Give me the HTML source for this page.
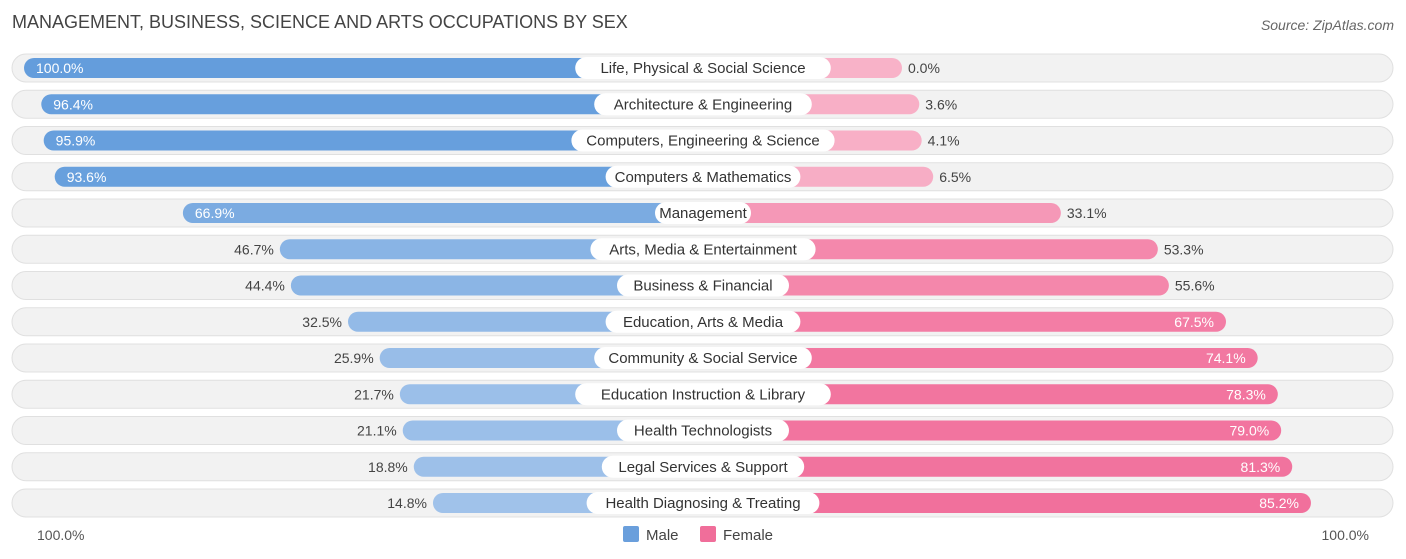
<!DOCTYPE html>
<html><head><meta charset="utf-8">
<style>
body{margin:0;background:#fff;font-family:"Liberation Sans",sans-serif;}
#c{position:relative;width:1406px;height:559px;overflow:hidden;}
</style></head>
<body>
<div id="c">
<svg id="s" width="1406" height="559" xmlns="http://www.w3.org/2000/svg" font-family="Liberation Sans, sans-serif">
<text x="12" y="28" font-size="18" fill="#444">MANAGEMENT, BUSINESS, SCIENCE AND ARTS OCCUPATIONS BY SEX</text>
<text x="1394" y="30" font-size="14" fill="#666" font-style="italic" text-anchor="end">Source: ZipAtlas.com</text>
<text x="37" y="540" font-size="14" fill="#555">100.0%</text>
<text x="1369" y="540" font-size="14" fill="#555" text-anchor="end">100.0%</text>
<g>
<rect x="623" y="526" width="16" height="16" rx="2" fill="#6a9fdc"/>
<text x="646" y="540" font-size="15" fill="#444">Male</text>
<rect x="700" y="526" width="16" height="16" rx="2" fill="#f06e9a"/>
<text x="723" y="540" font-size="15" fill="#444">Female</text>
</g>
<g id="rows"></g>
</svg>
</div>
<script>
const categories=["Life, Physical & Social Science","Architecture & Engineering","Computers, Engineering & Science","Computers & Mathematics","Management","Arts, Media & Entertainment","Business & Financial","Education, Arts & Media","Community & Social Service","Education Instruction & Library","Health Technologists","Legal Services & Support","Health Diagnosing & Treating"];
const maleValues=[100.0,96.4,95.9,93.6,66.9,46.7,44.4,32.5,25.9,21.7,21.1,18.8,14.8];
const femaleValues=[0.0,3.6,4.1,6.5,33.1,53.3,55.6,67.5,74.1,78.3,79.0,81.3,85.2];

const NS="http://www.w3.org/2000/svg";
const g=document.getElementById('rows');
const cx=703, off=199, k=4.8, y0=68, dy=36.25;
function w(v){return off+k*v;}
function mk(t,a){const e=document.createElementNS(NS,t);for(const q in a)e.setAttribute(q,a[q]);return e;}
function mix(a,b,t){return 'rgb('+a.map((x,i)=>Math.round(x+(b[i]-x)*t)).join(',')+')';}
categories.forEach((cat,i)=>{
  const y=y0+i*dy;
  const bg=mk('rect',{x:12,y:y-14,width:1381,height:28,rx:14,fill:'#f2f2f2',stroke:'#e0e0e0'});
  
  
  g.appendChild(bg);
  const m=maleValues[i], f=femaleValues[i];
  const mw=w(m), fw=w(f);
  const mb=mk('rect',{x:cx-mw,y:y-10,width:mw,height:20,rx:10,fill:mix([170,200,236],[100,157,220],m/100)});
  
  
  g.appendChild(mb);
  const fb=mk('rect',{x:cx,y:y-10,width:fw,height:20,rx:10,fill:mix([248,178,200],[240,100,148],f/100)});
  
  
  g.appendChild(fb);
  const tw=cat.length*7.6+20;
  const lb=mk('rect',{x:cx-tw/2,y:y-11,width:tw,height:22,rx:11,fill:'#fff'});
  
  
  g.appendChild(lb);
  const lt=mk('text',{x:cx,y:y+5,'font-size':15,fill:'#333','text-anchor':'middle'});
  lt.textContent=cat;
  
  
  g.appendChild(lt);
  const mIn=m>60;
  const mt=mk('text',{x:mIn?cx-mw+12:cx-mw-6,y:y+5,'font-size':14,fill:mIn?'#fff':'#444','text-anchor':mIn?'start':'end'});
  mt.textContent=m.toFixed(1)+'%';
  
  
  g.appendChild(mt);
  const fIn=f>60;
  const ft=mk('text',{x:fIn?cx+fw-12:cx+fw+6,y:y+5,'font-size':14,fill:fIn?'#fff':'#444','text-anchor':fIn?'end':'start'});
  ft.textContent=f.toFixed(1)+'%';
  
  
  g.appendChild(ft);
});
</script>
</body></html>
